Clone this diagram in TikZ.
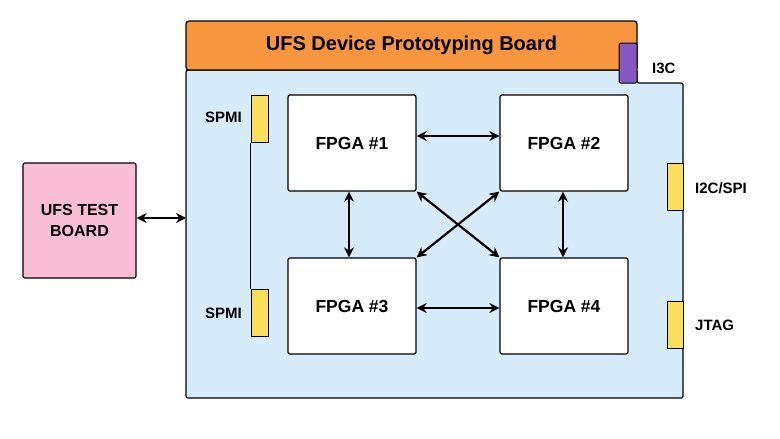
\documentclass[tikz,border=0pt]{standalone}
\usepackage{fontspec}
\setmainfont{Liberation Sans}
\usetikzlibrary{arrows.meta, positioning}
\definecolor{hdrorange}{RGB}{248,150,64}
\definecolor{boardblue}{RGB}{214,236,250}
\definecolor{testpink}{RGB}{249,189,212}
\definecolor{portyellow}{RGB}{250,222,92}
\definecolor{portpurple}{RGB}{132,88,192}

\begin{document}
\begin{tikzpicture}[x=1pt, y=-1pt,
  fpga/.style={draw, fill=white, rounded corners=2pt, line width=1.2pt, minimum width=128pt, minimum height=96pt, font=\bfseries\fontsize{17.5}{20}\selectfont},
  port/.style={draw, line width=1pt, fill=portyellow, minimum width=17pt, minimum height=47pt, inner sep=0pt},
  portlabel/.style={font=\bfseries\fontsize{15}{18}\selectfont, inner sep=0pt},
  link/.style={{Stealth[length=10pt,width=10pt]}-{Stealth[length=10pt,width=10pt]}, line width=2.2pt}
]
  \useasboundingbox (0,0) rectangle (780,439);

  % board body and header
  \draw[fill=boardblue, line width=1.3pt, rounded corners=2pt] (186,70) -- (186,398) -- (683,398) -- (683,83) -- (637,83) -- (637,70) -- cycle;
  \node[draw, fill=hdrorange, line width=1.3pt, rounded corners=3pt, minimum width=451pt, minimum height=49pt, font=\bfseries\fontsize{20}{24}\selectfont] (header) at (411.5,45.5) {UFS Device Prototyping Board};
  \coordinate (boardW) at (186,218);

  % test board
  \node[draw, fill=testpink, line width=1.2pt, rounded corners=2pt, minimum width=113pt, minimum height=115pt, align=center, font=\bfseries\fontsize{16}{21}\selectfont] (test) at (79.5,220.5) {UFS TEST\\BOARD};
  \draw[link] (test.east |- boardW) -- (boardW);

  % ports
  \node[draw, line width=1pt, fill=portpurple, rounded corners=1.5pt, minimum width=18pt, minimum height=40pt, inner sep=0pt] (i3c) at (628,63) {};
  \node[portlabel, anchor=west] (i3cl) at (652,68) {I3C};
  \node[port] (spmi1) at (259.5,118.5) {};
  \node[port] (spmi2) at (259.5,313) {};
  \draw[line width=1pt] (spmi1.south west) -- (spmi2.north west);
  \node[portlabel, anchor=east] (spmi1l) at (242,117) {SPMI};
  \node[portlabel, anchor=east] (spmi2l) at (242,313) {SPMI};
  \node[port, minimum width=16pt] (i2c) at (675,186.5) {};
  \node[port, minimum width=16pt] (jtag) at (675,324.5) {};
  \node[portlabel, anchor=west] (i2cl) at (695,188) {I2C/SPI};
  \node[portlabel, anchor=west] (jtagl) at (695,325) {JTAG};

  % fpgas
  \node[fpga] (f1) at (352,143) {FPGA \#1};
  \node[fpga] (f2) at (564,143) {FPGA \#2};
  \node[fpga] (f3) at (352,306) {FPGA \#3};
  \node[fpga] (f4) at (564,306) {FPGA \#4};

  \draw[link] ([yshift=7pt]f1.east) -- ([yshift=7pt]f2.west);
  \draw[link] ([yshift=-2pt]f3.east) -- ([yshift=-2pt]f4.west);
  \draw[link] ([xshift=-3pt]f1.south) -- ([xshift=-3pt]f3.north);
  \draw[link] ([xshift=-1pt]f2.south) -- ([xshift=-1pt]f4.north);
  \draw[link] (f1.south east) -- (f4.north west);
  \draw[link] (f2.south west) -- (f3.north east);
\end{tikzpicture}
\end{document}
